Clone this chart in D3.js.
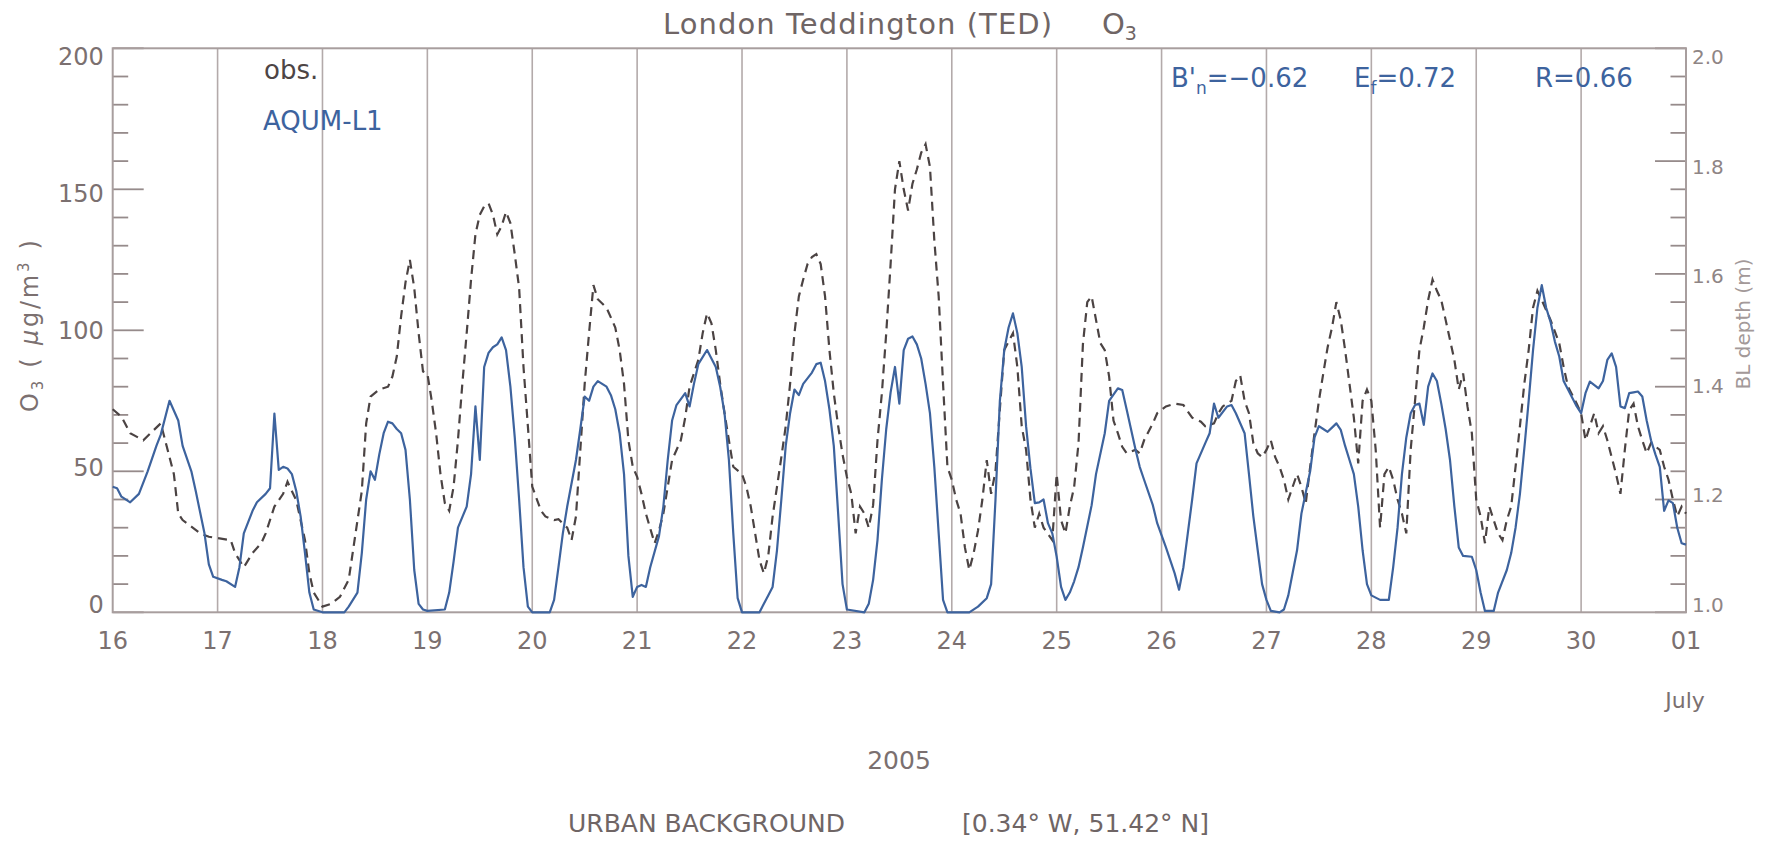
<!DOCTYPE html>
<html>
<head>
<meta charset="utf-8">
<script src="https://cdn.jsdelivr.net/npm/d3@7"></script>
<style>
  html, body { margin: 0; padding: 0; background: #ffffff; }
  svg { display: block; }
  text { font-family: "DejaVu Sans", sans-serif; }
</style>
</head>
<body>
<svg id="chart" width="1765" height="844"></svg>
<script>
// ---------------- data ----------------
// hours since 2005-06-16 00:00
const modelHours = [0,1,2,4,6,8,10,11,13,15,16,18,19,21,22,23,25,26,28,29,30,32,33,35,36,37,38,39,40,41,42,43,44,45,46,48,53,54,56,57,58,59,60,61,62,63,64,65,66,67,68,69,70,71,72,76,77,78,79,81,82,83,84,85,86,87,88,89,90,91,92,93,94,95,96,100,101,102,103,104,106,107,108,109,110,111,113,114,115,116,117,118,119,120,121,122,123,125,126,127,128,129,131,132,133,134,136,138,139,140,141,142,143,144,148,149,150,151,152,153,154,155,156,157,158,160,161,162,163,164,165,166,167,168,172,173,174,175,176,177,178,179,180,181,182,183,184,185,186,187,188,189,190,191,196,198,200,201,202,203,204,205,206,207,208,209,210,211,212,213,214,215,216,217,218,219,220,221,222,224,225,227,228,230,231,232,234,235,236,238,239,241,243,244,245,246,247,248,250,251,252,253,255,256,257,259,260,261,262,263,264,265,267,268,269,270,271,272,274,275,276,277,278,279,280,281,282,283,284,285,286,287,288,290,292,293,294,295,296,297,298,299,300,301,302,303,304,305,306,307,308,309,311,312,313,314,316,317,319,320,321,322,323,324,325,326,327,328,329,330,331,332,333,335,336,337,338,340,341,342,343,344,345,346,347,348,349,350,351,352,353,354,355,356,357,358,359,360];
const modelO3 = [44.5,44,41,39,42,50,59,63,75,68,59,50,43,28,17,12.6,11.5,11,9,16,28,36,39,42,44,70.5,50.5,51.6,51,49,43,34,21,7,1,0,0,2,7,21,40,50,47,56,63.5,67.6,67,65,63.5,57.6,40,15,3,1,0.5,1,7,18,30,37.5,49,73,54,87,92,94,95,97.5,93,80,62,40,16,2,0,0,4.4,16,28,37.5,54,65,76.5,75,80,82,80,77,72,63.5,49,20,5.5,9,9.7,9,16,27,37.5,54,68,73.5,77.7,73,81,88,93,87,80,70.6,54,28,5,0,0,3,6,9,22,40,59,70.6,79,77,81,85,88,88.5,82,72,59,35,10,1,0,3,11.5,25.6,47,65,78,87,74,93,97,97.8,95,90,81,70.6,51.6,28,4.4,0,0,2,5,10,40,75,93,101,106,99,87,66,51,38.7,39,40,31.6,28,19.7,9,4.4,7,11,16,23,38,49,63.5,75,79.4,78.8,72,58,51.6,47,38,31.6,23,13.8,8,16,28,40,52.8,60,63.5,74,69,73,73.5,70.6,63.5,49,34,22,10,4.4,0.5,0,1,6,14,22,35,50,62,66,65,64,65.5,67,64.7,59,54,49,37.5,22,10,6,4.4,4.4,16,30,49,62,70.6,73.5,74,66.5,80,84.7,82,74,65,54,37.5,23,20,19.7,15,7,0.5,0.5,7,15,21,30,42,58,75,93,108,116,108,103,96,90.7,82,79,73,70.6,77.7,81.8,79.4,82,89.5,91.8,87,73,72.4,77.7,78,78.3,76.5,68,61,56,51.6,36,39.7,38.7,30,24.5,24];

const obsHours = [0,2,4,7,9,11,12,14,15,16,18,20,22,24,27,28,30,32,34,35,37,39,40,42,44,45,46,48,50,52,54,55,57,58,59,61,63,64,65,66,67,68,69,70,71,72,73,74,75,76,77,78,79,80,81,82,83,84,85,86,87,88,89,90,91,92,93,94,95,96,98,99,101,102,104,105,106,107,108,109,110,111,113,115,116,117,118,119,120,121,122,124,125,126,127,128,130,131,132,134,135,136,137,138,139,140,141,142,144,145,146,147,148,149,150,151,152,153,154,155,156,157,158,159,160,161,162,163,164,165,166,167,168,169,170,171,172,173,174,175,176,177,178,179,180,181,182,183,184,185,186,187,188,189,190,191,192,193,194,195,196,197,198,199,200,201,202,203,204,206,207,208,209,210,211,212,213,215,216,217,218,219,220,221,222,223,224,225,226,227,228,229,230,231,232,234,235,236,238,239,241,243,245,247,249,250,252,253,254,256,257,258,259,260,261,262,263,264,265,266,267,268,269,270,271,272,273,274,275,276,277,278,279,280,281,282,283,284,285,286,287,288,289,290,291,292,293,294,295,296,297,298,299,300,301,302,303,304,305,306,307,308,309,310,311,312,313,314,315,316,317,318,319,320,321,322,323,324,325,326,327,329,331,332,333,335,336,337,338,339,340,341,342,343,344,345,346,347,348,349,350,351,352,354,355,356,357,358,359,360];
const obsO3 = [72,69.4,63.5,61,64,67,61,49,35,32.7,30.4,28,26.8,26.3,25.6,21,16,21,24.5,28,37.5,42,46.3,39.7,25.6,13.8,7,2,3,5.5,11.5,22,43,67,76.5,79,80,83.6,90.7,105,117,125,115,99,85.4,84.7,75,63.5,49,38.7,36,44.5,61,81,99,118,134,141,144,145,141,134,137,142,138,127,115,87,66,44.6,36,34,32.7,33,30,25.6,34,57.6,81,99,116,111,108,101,93,81,61,51.6,48,42,35,24.5,29,35,44.5,54,61,69,80,89.5,99,106,102.5,93,81,70.6,61,51.6,49,44.5,37.5,28,18.5,13.8,20,34,44.5,55,66,81,99,112,118,123.5,126,127,123.5,112,93,77.7,66,56,48,42,28,37.5,35,30,38,61,77.7,99,123.5,150,160,150,142.5,152,157,163,166,158,132,112,81,51.6,47,40,35,23,15,21,29,40,54,42,50,72,93,99,87,66,57.6,40,30,35,30,25.6,49,32.7,28,37.5,44.5,60,95,110,112,103.7,95.4,93,83.6,68,63.5,58.7,56.4,57.6,56.4,61,67,70.6,73,74,73.5,69,67.6,66,67,70.6,73,75,82,84,75,70.6,60,56.4,55,57.6,61,55,51.6,47,40,44.5,49,44.5,38.7,51.6,63.5,75,84.7,94,101,110,103.7,93,81,69,52.8,75,79,75,57.6,30,49,51.6,47,40,35,28,57.6,75,93,101,110.7,118,114,110.7,103.7,96.6,89.5,79,84.7,73,63.5,40,34,24.5,37.5,32.7,28,25.6,32.7,37.5,51.6,66,81,93,108,114,110.7,103.7,95.4,87,80,74,70.6,61,66,70.6,63.5,66,61,55,49,42,57.6,71.7,74,66,61,56.4,60,57.6,51.6,47,40,34,37.5,35];

const leftTicks = [0, 50, 100, 150, 200];
const rightTicks = [1.0, 1.2, 1.4, 1.6, 1.8, 2.0];
const dayStart = new Date(Date.UTC(2005, 5, 16));
const dayEnd = new Date(Date.UTC(2005, 6, 1));
const titleText = "London Teddington (TED)";
const seriesNames = ["obs.", "AQUM-L1"];
const stats = { bn: "-0.62", ef: "0.72", r: "0.66" };

// ---------------- layout ----------------
const X0 = 112.7, X1 = 1686, Y0 = 612.3, Y1 = 48.3;
const axisCol = "#a89e9e", gridCol = "#b3aaaa", textCol = "#7b7070";
const blue = "#3d639e", obsCol = "#4b4343";

const svg = d3.select("#chart");

const x = d3.scaleUtc().domain([dayStart, dayEnd]).range([X0, X1]);
const y = d3.scaleLinear().domain([0, 200]).range([Y0, Y1]);
const yR = d3.scaleLinear().domain([1, 2]).range([Y0, Y1]);
// tick-label placement (IDL squeezes end labels inward)
const yLab = d3.scaleLinear().domain([0, 200]).range([604.8, 56.8]);
const yRLab = d3.scaleLinear().domain([1, 2]).range([604.8, 56.8]);
const tx = h => x(new Date(dayStart.getTime() + h * 3600e3));

// vertical day grid lines
const days = d3.utcDay.range(dayStart, d3.utcDay.offset(dayEnd, 1));
svg.append("g").selectAll("line")
  .data(days.slice(1, -1)).join("line")
  .attr("x1", d => x(d)).attr("x2", d => x(d))
  .attr("y1", Y1).attr("y2", Y0)
  .attr("stroke", gridCol).attr("stroke-width", 1.6);

// left minor/major ticks
const lt = d3.range(0, 201, 10);
svg.append("g").selectAll("line").data(lt).join("line")
  .attr("x1", X0).attr("x2", d => X0 + (d % 50 === 0 ? 31 : 15.5))
  .attr("y1", d => y(d)).attr("y2", d => y(d))
  .attr("stroke", "#968b8b").attr("stroke-width", 1.8);
// right ticks
const rt = d3.range(0, 21).map(i => 1 + i * 0.05);
svg.append("g").selectAll("line").data(rt).join("line")
  .attr("x1", X1).attr("x2", (d, i) => X1 - (i % 4 === 0 ? 31 : 15.5))
  .attr("y1", d => yR(d)).attr("y2", d => yR(d))
  .attr("stroke", "#968b8b").attr("stroke-width", 1.8);

// frame
svg.append("rect").attr("x", X0).attr("y", Y1).attr("width", X1 - X0).attr("height", Y0 - Y1)
  .attr("fill", "none").attr("stroke", axisCol).attr("stroke-width", 2);

// tick labels
svg.append("g").selectAll("text").data(leftTicks).join("text")
  .attr("x", X0 - 9).attr("y", d => yLab(d)).attr("dy", "0.36em")
  .attr("text-anchor", "end").attr("font-size", 24).attr("fill", textCol)
  .text(d => d);
svg.append("g").selectAll("text").data(rightTicks).join("text")
  .attr("x", X1 + 6).attr("y", d => yRLab(d)).attr("dy", "0.36em")
  .attr("text-anchor", "start").attr("font-size", 20).attr("fill", "#8f8585")
  .text(d => d.toFixed(1));
svg.append("g").selectAll("text").data(days).join("text")
  .attr("x", d => x(d)).attr("y", 649)
  .attr("text-anchor", "middle").attr("font-size", 24).attr("fill", textCol)
  .text(d => d3.utcFormat("%d")(d));

// series lines
const line = d3.line().x(d => tx(d[0])).y(d => y(d[1]));
svg.append("path")
  .datum(obsHours.map((h, i) => [h, obsO3[i]]))
  .attr("d", line).attr("fill", "none").attr("stroke", obsCol)
  .attr("stroke-width", 2.2).attr("stroke-dasharray", "9,6");
svg.append("path")
  .datum(modelHours.map((h, i) => [h, modelO3[i]]))
  .attr("d", line).attr("fill", "none").attr("stroke", blue)
  .attr("stroke-width", 2.2).attr("stroke-linejoin", "round");

// title
svg.append("text").attr("x", 663).attr("y", 34).attr("font-size", 29).attr("fill", "#6f6565")
  .attr("textLength", 389).attr("lengthAdjust", "spacing").text(titleText);
const t2 = svg.append("text").attr("x", 1102).attr("y", 34).attr("font-size", 29).attr("fill", "#6f6565");
t2.append("tspan").text("O");
t2.append("tspan").attr("font-size", 19).attr("dy", 6).text("3");

// legend labels
svg.append("text").attr("x", 264).attr("y", 79).attr("font-size", 26).attr("fill", "#4d4545").text(seriesNames[0]);
svg.append("text").attr("x", 263).attr("y", 130).attr("font-size", 26).attr("fill", blue).text(seriesNames[1]);

// statistics
const s1 = svg.append("text").attr("x", 1171).attr("y", 87).attr("font-size", 26).attr("fill", blue);
s1.append("tspan").text("B'");
s1.append("tspan").attr("font-size", 17).attr("dy", 7).text("n");
s1.append("tspan").attr("dy", -7).text("=" + stats.bn.replace("-", "\u2212"));
const s2 = svg.append("text").attr("x", 1354).attr("y", 87).attr("font-size", 26).attr("fill", blue);
s2.append("tspan").text("E");
s2.append("tspan").attr("font-size", 17).attr("dy", 7).text("f");
s2.append("tspan").attr("dy", -7).text("=" + stats.ef);
svg.append("text").attr("x", 1535).attr("y", 87).attr("font-size", 26).attr("fill", blue).text("R=" + stats.r);

// axis titles
const yl = svg.append("text").attr("transform", "translate(38,326) rotate(-90)")
  .attr("text-anchor", "middle").attr("font-size", 24).attr("fill", textCol)
  .attr("textLength", 172).attr("lengthAdjust", "spacing");
yl.append("tspan").text("O");
yl.append("tspan").attr("font-size", 15).attr("dy", 5).text("3");
yl.append("tspan").attr("dy", -5).text(" (  ");
yl.append("tspan").attr("font-style", "italic").text("\u00b5");
yl.append("tspan").text("g/m");
yl.append("tspan").attr("font-size", 15).attr("dy", -9).text("3");
yl.append("tspan").attr("dy", 9).text("  )");

svg.append("text").attr("transform", "translate(1750,324) rotate(-90)")
  .attr("text-anchor", "middle").attr("font-size", 20).attr("fill", "#a39999").text("BL depth (m)");

svg.append("text").attr("x", 1685).attr("y", 708).attr("text-anchor", "middle")
  .attr("font-size", 22).attr("fill", textCol).text("July");
svg.append("text").attr("x", 899).attr("y", 769).attr("text-anchor", "middle")
  .attr("font-size", 25).attr("fill", textCol).text("2005");
svg.append("text").attr("x", 568).attr("y", 832).attr("font-size", 25).attr("fill", "#6f6565").text("URBAN BACKGROUND");
svg.append("text").attr("x", 962).attr("y", 832).attr("font-size", 25).attr("fill", "#6f6565").text("[0.34\u00b0 W, 51.42\u00b0 N]");
</script>
</body>
</html>
